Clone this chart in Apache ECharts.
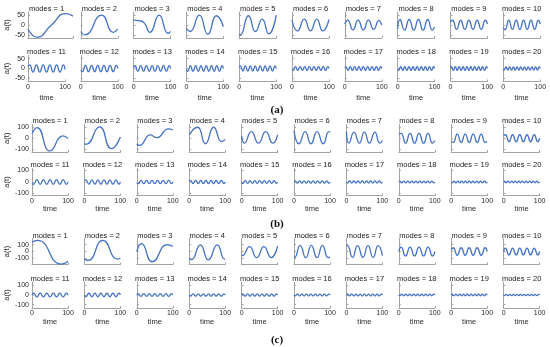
<!DOCTYPE html>
<html><head><meta charset="utf-8">
<script src="https://cdn.jsdelivr.net/npm/echarts@6/dist/echarts.min.js"></script>
<style>html,body{margin:0;padding:0;background:#fff}#c{width:550px;height:347px}</style>
</head><body><div id="c"></div>
<script>
// ---------------- DATA ----------------
const modeNumbers = [1,2,3,4,5,6,7,8,9,10,11,12,13,14,15,16,17,18,19,20];
const panelLabels = ['(a)', '(b)', '(c)'];
const yTicksA = [-50, 0, 50];
const yTicksB = [-100, 0, 100];
const yTicksC = [-100, 0, 100];
const xTicks = [0, 100];

// modes 1-7 : "time,a(t)" points (extrema and turning points)
const lowModesA = [
  "0,-20 20,-62 52,0 84,58 100,45",
  "0,-33 11,-50 56,50 88,-37 100,-21",
  "0,25 14,22 28,12 44,-37 69,50 93,-42 100,-33",
  "0,-17 10,-33 35,50 58,-47 81,47 100,-8",
  "0,-47 3,-50 25,47 44,-33 62,30 80,-45 100,50",
  "0,25 15,-30 33,30 50,-30 67,30 83,-30 100,28",
  "0,5 8,25 22,-25 36,25 50,-25 64,25 78,-22 92,22 100,0"
];
const lowModesB = [
  "0,43 14,97 50,-115 86,21 100,-3",
  "0,-48 5,-55 42,103 75,-94 100,12",
  "0,-50 7,-65 38,30 55,5 88,85 100,75",
  "0,30 23,100 45,-50 68,100 90,-30 100,-10",
  "0,20 8,-45 27,60 47,-45 67,60 87,-45 100,30",
  "0,70 14,-50 31,60 47,-50 64,60 81,-50 97,60 100,55",
  "0,60 7,-45 21,55 36,-45 50,55 64,-45 79,55 93,-45 100,-20"
];
const lowModesC = [
  "0,137 15,162 82,-185 100,-147",
  "0,-108 10,-130 51,162 92,-110 100,-95",
  "0,0 13,115 43,-150 85,100 100,75",
  "0,-100 6,-120 31,98 53,-122 78,98 98,-110 100,-105",
  "0,-55 2,-60 22,70 42,-90 62,70 82,-90 100,80",
  "0,-80 2,-85 17,90 33,-90 48,90 64,-90 79,90 95,-90 100,-75",
  "0,80 3,85 17,-85 31,85 46,-85 60,85 74,-85 88,85 100,-60"
];

// modes 8-20 : times of start, extrema, end
const extremaTimes = [
  "0 6.3 18.8 31.3 43.8 56.3 68.8 81.3 93.8 100",
  "0 5.6 16.7 27.8 38.9 50 61.1 72.2 83.3 94.4 100",
  "0 5 15 25 35 45 55 65 75 85 95 100",
  "0 4.5 13.6 22.7 31.8 40.9 50 59.1 68.2 77.3 86.4 95.5 100",
  "0 4.2 12.5 20.8 29.2 37.5 45.8 54.2 62.5 70.8 79.2 87.5 95.8 100",
  "0 3.8 11.5 19.2 26.9 34.6 42.3 50 57.7 65.4 73.1 80.8 88.5 96.2 100",
  "0 3.6 10.7 17.9 25 32.1 39.3 46.4 53.6 60.7 67.9 75 82.1 89.3 96.4 100",
  "0 3.3 10 16.7 23.3 30 36.7 43.3 50 56.7 63.3 70 76.7 83.3 90 96.7 100",
  "0 3.1 9.4 15.6 21.9 28.1 34.4 40.6 46.9 53.1 59.4 65.6 71.9 78.1 84.4 90.6 96.9 100",
  "0 2.9 8.8 14.7 20.6 26.5 32.4 38.2 44.1 50 55.9 61.8 67.6 73.5 79.4 85.3 91.2 97.1 100",
  "0 2.8 8.3 13.9 19.4 25 30.6 36.1 41.7 47.2 52.8 58.3 63.9 69.4 75 80.6 86.1 91.7 97.2 100",
  "0 2.6 7.9 13.2 18.4 23.7 28.9 34.2 39.5 44.7 50 55.3 60.5 65.8 71.1 76.3 81.6 86.8 92.1 97.4 100",
  "0 2.5 7.5 12.5 17.5 22.5 27.5 32.5 37.5 42.5 47.5 52.5 57.5 62.5 67.5 72.5 77.5 82.5 87.5 92.5 97.5 100"
];
// modes 8-20 : a(t) values at those times
const highModesA = [
  "-20 28 -26 28 -26 28 -26 28 -26 -10",
  "15 24 -22 24 -22 24 -22 24 -22 24 5",
  "-15 -24 24 -22 24 -22 24 -22 24 -22 24 5",
  "10 18 -18 18 -18 18 -18 18 -18 18 -18 18 -5",
  "-8 -16 16 -16 16 -16 16 -16 16 -16 16 -16 16 0",
  "5 15 -15 15 -15 15 -15 15 -15 15 -15 15 -15 15 0",
  "-5 -14 14 -14 14 -14 14 -14 14 -14 14 -14 14 -14 14 0",
  "5 13 -13 13 -13 13 -13 13 -13 13 -13 13 -13 13 -13 13 0",
  "-5 -10 10 -10 10 -10 10 -10 10 -10 10 -10 10 -10 10 -10 10 0",
  "5 10 -10 10 -10 10 -10 10 -10 10 -10 10 -10 10 -10 10 -10 10 0",
  "-4 -9 9 -9 9 -9 9 -9 9 -9 9 -9 9 -9 9 -9 9 -9 9 0",
  "4 9 -9 9 -9 9 -9 9 -9 9 -9 9 -9 9 -9 9 -9 9 -9 9 0",
  "-4 -8 8 -8 8 -8 8 -8 8 -8 8 -8 8 -8 8 -8 8 -8 8 -8 8 0"
];
const highModesB = [
  "40 45 -45 45 -45 45 -45 45 -45 -20",
  "-30 -38 38 -38 38 -38 38 -38 38 -38 -30",
  "25 32 -32 32 -32 32 -32 32 -32 32 -32 0",
  "-10 -20 20 -20 20 -20 20 -20 20 -20 20 -20 0",
  "10 18 -18 18 -18 18 -18 18 -18 18 -18 18 -18 0",
  "-8 -15 15 -15 15 -15 15 -15 15 -15 15 -15 15 -15 0",
  "8 13 -13 13 -13 13 -13 13 -13 13 -13 13 -13 13 -13 0",
  "-6 -12 12 -12 12 -12 12 -12 12 -12 12 -12 12 -12 12 -12 0",
  "5 10 -10 10 -10 10 -10 10 -10 10 -10 10 -10 10 -10 10 -10 0",
  "-5 -9 9 -9 9 -9 9 -9 9 -9 9 -9 9 -9 9 -9 9 -9 0",
  "4 8 -8 8 -8 8 -8 8 -8 8 -8 8 -8 8 -8 8 -8 8 -8 0",
  "-4 -8 8 -8 8 -8 8 -8 8 -8 8 -8 8 -8 8 -8 8 -8 8 -8 0",
  "3 7 -7 7 -7 7 -7 7 -7 7 -7 7 -7 7 -7 7 -7 7 -7 7 -7 0"
];
const highModesC = [
  "0 65 -65 65 -65 65 -65 65 -65 0",
  "20 55 -55 55 -55 55 -55 55 -55 55 0",
  "0 50 -50 50 -50 50 -50 50 -50 50 -50 0",
  "0 20 -20 20 -20 20 -20 20 -20 20 -20 20 0",
  "0 -18 18 -18 18 -18 18 -18 18 -18 18 -18 18 0",
  "0 14 -14 14 -14 14 -14 14 -14 14 -14 14 -14 14 0",
  "0 -12 12 -12 12 -12 12 -12 12 -12 12 -12 12 -12 12 0",
  "0 12 -12 12 -12 12 -12 12 -12 12 -12 12 -12 12 -12 12 0",
  "0 -10 10 -10 10 -10 10 -10 10 -10 10 -10 10 -10 10 -10 10 0",
  "0 9 -9 9 -9 9 -9 9 -9 9 -9 9 -9 9 -9 9 -9 9 0",
  "0 -8 8 -8 8 -8 8 -8 8 -8 8 -8 8 -8 8 -8 8 -8 8 0",
  "0 8 -8 8 -8 8 -8 8 -8 8 -8 8 -8 8 -8 8 -8 8 -8 8 0",
  "0 -7 7 -7 7 -7 7 -7 7 -7 7 -7 7 -7 7 -7 7 -7 7 -7 7 0"
];

// ---------------- LAYOUT ----------------
const panels = [
  {low: lowModesA, high: highModesA, yTicks: yTicksA, colLeft: 28, colStep: 52.8, width: 37, wideFirst: 45,
   rows: [{titleY: 8.5, top: 12, h: 26, lim: 66}, {titleY: 52, top: 55.5, h: 26, lim: 66}],
   timeY: 98.5, labelY: 110, yNameGap: 16},
  {low: lowModesB, high: highModesB, yTicks: yTicksB, colLeft: 32, colStep: 52.4, width: 36,
   rows: [{titleY: 121, top: 124.5, h: 27.5, lim: 125}, {titleY: 164.5, top: 168.5, h: 27, lim: 118}],
   timeY: 208.5, labelY: 224, yNameGap: 20},
  {low: lowModesC, high: highModesC, yTicks: yTicksC, colLeft: 32, colStep: 52.4, width: 36,
   rows: [{titleY: 235.5, top: 238.5, h: 26, lim: 190}, {titleY: 278.5, top: 282, h: 26, lim: 135}],
   timeY: 322.5, labelY: 340, yNameGap: 20}
];

function parsePairs(s) { return s.trim().split(/\s+/).map(p => p.split(',').map(Number)); }
function zipTimes(ts, ys) {
  const t = ts.trim().split(/\s+/).map(Number), y = ys.trim().split(/\s+/).map(Number);
  const n = Math.min(t.length, y.length), out = [];
  for (let i = 0; i < n; i++) out.push([t[i], y[i]]);
  return out;
}

const FONT = '"Liberation Sans", Arial, sans-serif';
const AXIS = '#a3a3a3', TXT = '#2b2b2b', LINE = '#4472c4';
const grids = [], xAxes = [], yAxes = [], series = [], graphics = [];

panels.forEach((p, pi) => {
  p.rows.forEach((row, ri) => {
    for (let c = 0; c < 10; c++) {
      const mode = modeNumbers[ri * 10 + c];
      const idx = grids.length;
      const left = p.colLeft + p.colStep * c;
      const w = (p.wideFirst && mode === 1) ? p.wideFirst : p.width;
      const data = mode <= 7 ? parsePairs(p.low[mode - 1]) : zipTimes(extremaTimes[mode - 8], p.high[mode - 8]);
      grids.push({left: left, top: row.top, width: w, height: row.h, containLabel: false, outerBoundsMode: 'none'});
      xAxes.push({
        gridIndex: idx, type: 'value', min: 0, max: 100,
        axisLine: {show: true, onZero: false, lineStyle: {color: AXIS, width: 1}},
        axisTick: {show: true, inside: true, length: 2, customValues: xTicks, lineStyle: {color: AXIS}},
        axisLabel: {show: ri === 1, customValues: xTicks, fontSize: 7, margin: 2, color: TXT, fontFamily: FONT},
        splitLine: {show: false},
        name: ri === 1 ? 'time' : '', nameLocation: 'middle',
        nameGap: p.timeY - (row.top + row.h) - 4.5,
        nameTextStyle: {fontSize: 7.5, color: TXT, fontFamily: FONT}
      });
      yAxes.push({
        gridIndex: idx, type: 'value', min: -row.lim, max: row.lim,
        axisLine: {show: true, onZero: false, lineStyle: {color: AXIS, width: 1}},
        axisTick: {show: true, inside: true, length: 2, customValues: p.yTicks, lineStyle: {color: AXIS}},
        axisLabel: {show: c === 0, customValues: p.yTicks, fontSize: 7, margin: 3, color: TXT, fontFamily: FONT},
        splitLine: {show: false},
        name: c === 0 ? 'a(t)' : '', nameLocation: 'middle', nameGap: p.yNameGap,
        nameTextStyle: {fontSize: 7.5, color: TXT, fontFamily: FONT}
      });
      series.push({
        type: 'line', xAxisIndex: idx, yAxisIndex: idx, data: data,
        showSymbol: false, smooth: 0.55, clip: true, silent: true,
        lineStyle: {width: 1.3, color: LINE}, itemStyle: {color: LINE}
      });
      graphics.push({
        type: 'text', x: left + p.width / 2, y: row.titleY, silent: true,
        style: {text: 'modes = ' + mode, align: 'center', verticalAlign: 'middle',
                fontSize: 7.5, fontFamily: FONT, fill: '#1a1a1a'}
      });
    }
  });
  graphics.push({
    type: 'text', x: 277, y: p.labelY, silent: true,
    style: {text: panelLabels[pi], align: 'center', verticalAlign: 'middle',
            fontSize: 11, fontWeight: 'bold', fontFamily: '"Liberation Serif", "Times New Roman", serif', fill: '#111'}
  });
});

const chart = echarts.init(document.getElementById('c'), null, {renderer: 'canvas', width: 550, height: 347});
chart.setOption({
  backgroundColor: '#ffffff',
  animation: false,
  grid: grids, xAxis: xAxes, yAxis: yAxes, series: series,
  graphic: graphics
});
</script>
</body></html>
